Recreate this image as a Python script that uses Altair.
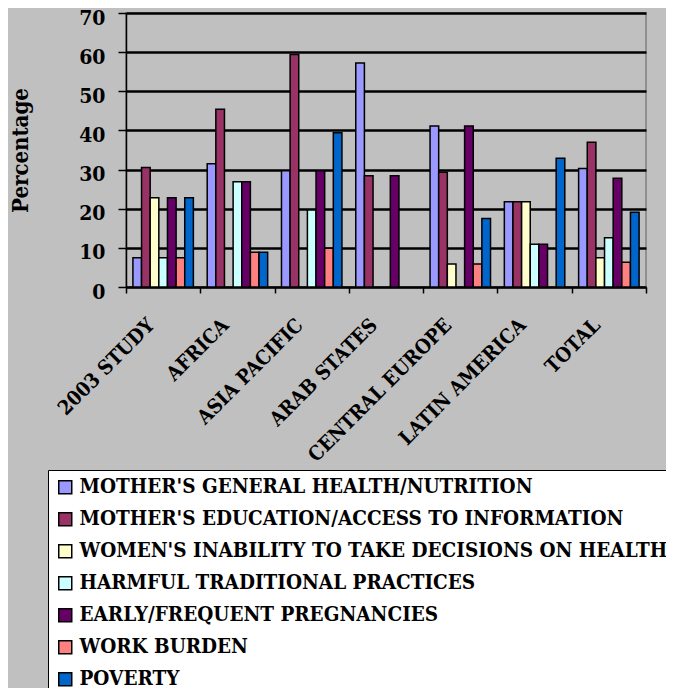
import altair as alt
import pandas as pd

categories = ["2003 STUDY", "AFRICA", "ASIA PACIFIC", "ARAB STATES",
              "CENTRAL EUROPE", "LATIN AMERICA", "TOTAL"]

series = [
    "MOTHER'S GENERAL HEALTH/NUTRITION",
    "MOTHER'S EDUCATION/ACCESS TO INFORMATION",
    "WOMEN'S INABILITY TO TAKE DECISIONS ON HEALTH",
    "HARMFUL TRADITIONAL PRACTICES",
    "EARLY/FREQUENT PREGNANCIES",
    "WORK BURDEN",
    "POVERTY",
]

health = [7.5, 31.5, 29.7, 57.2, 41.1, 21.8, 30.3]
education = [30.5, 45.4, 59.4, 28.4, 29.3, 21.8, 37.0]
decisions = [22.8, None, None, None, 5.9, 21.8, 7.5]
harmful = [7.5, 26.9, 19.7, None, None, 10.9, 12.6]
pregnancies = [22.8, 26.9, 29.7, 28.4, 41.1, 10.9, 27.8]
work = [7.5, 8.9, 9.9, None, 5.9, None, 6.3]
poverty = [22.8, 8.9, 39.4, None, 17.5, 32.9, 19.1]

colors = ["#9999FF", "#993366", "#FFFFCC", "#CCFFFF", "#660066", "#FF8080", "#0066CC"]

values = [health, education, decisions, harmful, pregnancies, work, poverty]
rows = []
for s, vals in zip(series, values):
    for c, v in zip(categories, vals):
        if v is not None:
            rows.append({"region": c, "series": s, "value": v})
df = pd.DataFrame(rows)

FONT = "DejaVu Serif Condensed, DejaVu Serif, serif"

chart = alt.Chart(df).mark_bar(stroke="black", strokeWidth=1.5).encode(
    x=alt.X("region:N", sort=categories,
            scale=alt.Scale(domain=categories, paddingInner=0, paddingOuter=0),
            axis=alt.Axis(title=None, labelAngle=315, labelAlign="right",
                          labelBaseline="alphabetic", labelFont=FONT,
                          labelFontSize=20, labelFontWeight="bold", labelColor="black",
                          labelPadding=33, labelOffset=-8, labelOverlap=False,
                          labelLimit=1000, tickBand="extent", tickSize=6,
                          tickColor="black", tickWidth=1.5, domainColor="black",
                          domainWidth=1.5, grid=False)),
    xOffset=alt.XOffset("series:N", sort=series,
                        scale=alt.Scale(domain=series, paddingInner=0, paddingOuter=0.8)),
    y=alt.Y("value:Q",
            scale=alt.Scale(domain=[0, 70], nice=False),
            axis=alt.Axis(title="Percentage", values=[0, 10, 20, 30, 40, 50, 60, 70],
                          labelFont=FONT, labelFontSize=21,
                          labelFontWeight="bold",
                          labelColor="black", labelPadding=13, labelOffset=5, tickSize=8,
                          tickColor="black", tickWidth=1.5, domainColor="black",
                          domainWidth=1.5, grid=True, gridColor="black", gridWidth=2.5,
                          titleFont=FONT, titleFontSize=22,
                          titleFontWeight="bold",
                          titleColor="black", titleAngle=270, titleX=-99, titleY=137,
                          titleAlign="center", titleBaseline="alphabetic")),
    color=alt.Color("series:N", sort=series,
                    scale=alt.Scale(domain=series, range=colors),
                    legend=alt.Legend(title=None, orient="none", legendX=-78, legendY=457,
                                      fillColor="white", strokeColor="black", padding=7,
                                      labelFont=FONT, labelFontSize=20.5,
                                      labelFontWeight="bold", labelColor="black",
                                      symbolType="square", symbolSize=169,
                                      symbolStrokeColor="black", symbolStrokeWidth=1.5,
                                      rowPadding=11, labelLimit=1000, labelOffset=4,
                                      symbolOpacity=1)),
).properties(
    width=520, height=274,
    padding={"left": 118, "top": 5, "right": 20, "bottom": 401},
    autosize=alt.AutoSizeParams(type="none"),
).configure(background="#C0C0C0").configure_view(stroke="#808080", strokeWidth=1.5)

chart.save("out.html", embed_options={"renderer": "svg", "actions": False})
